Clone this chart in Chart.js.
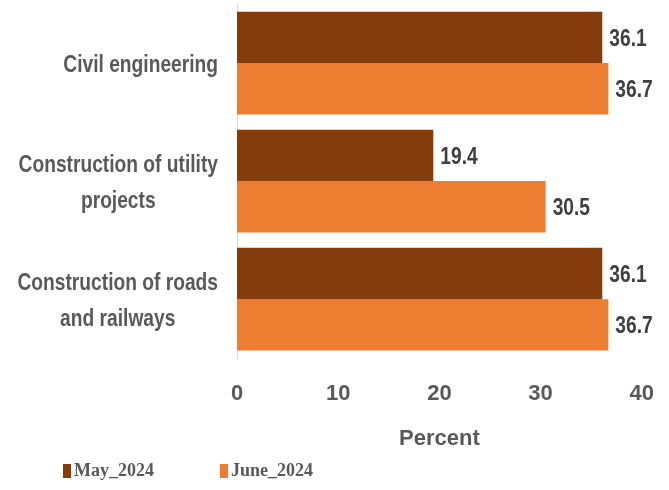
<!DOCTYPE html>
<html>
<head>
<meta charset="utf-8">
<script src="https://cdn.jsdelivr.net/npm/chart.js@4.4.1/dist/chart.umd.min.js"></script>
<style>
    html, body { margin: 0; padding: 0; background: #ffffff; }
    #wrap { width: 669px; height: 490px; }
</style>
</head>
<body>
<div id="wrap"><canvas id="sectorChart" width="669" height="490"></canvas></div>
<script>
// Dados do gráfico
const categories = [
    ['Civil engineering'],
    ['Construction of utility', 'projects'],
    ['Construction of roads', 'and railways']
];
const seriesNames = ['May_2024', 'June_2024'];
const may2024 = [36.1, 19.4, 36.1];
const june2024 = [36.7, 30.5, 36.7];
const xTicks = [0, 10, 20, 30, 40];
const axisTitle = 'Percent';

const FONT = "'Liberation Sans', Arial, sans-serif";
const TEXT_GREY = '#595959';
const NARROW = 0.8; // compressão horizontal do texto

/**
 * Escreve texto estreito (escala horizontal)
 */
function narrowText(ctx, text, x, y, align) {
    const w = ctx.measureText(text).width * NARROW;
    let left = x;
    if (align === 'center') left = x - w / 2;
    else if (align === 'right') left = x - w;
    ctx.save();
    ctx.translate(left, y);
    ctx.scale(NARROW, 1);
    ctx.textAlign = 'left';
    ctx.fillText(text, 0, 0);
    ctx.restore();
}

/**
 * Rótulos das categorias: bloco alinhado à direita, linhas centradas
 */
const categoryLabels = {
    id: 'categoryLabels',
    afterDraw(chart) {
        const ctx = chart.ctx;
        const yScale = chart.scales.y;
        const lineHeight = 36;
        ctx.save();
        ctx.font = "bold 24px " + FONT;
        ctx.fillStyle = TEXT_GREY;
        ctx.textBaseline = 'middle';
        categories.forEach((lines, i) => {
            const y = yScale.getPixelForValue(i) + 2;
            const blockWidth = Math.max(...lines.map(l => ctx.measureText(l).width)) * NARROW;
            const cx = yScale.right - 19 - blockWidth / 2;
            lines.forEach((line, j) => {
                narrowText(ctx, line, cx, y + (j - (lines.length - 1) / 2) * lineHeight, 'center');
            });
        });
        ctx.restore();
    }
};

/**
 * Valores no fim de cada barra
 */
const valueLabels = {
    id: 'valueLabels',
    afterDatasetsDraw(chart) {
        const ctx = chart.ctx;
        ctx.save();
        ctx.font = "bold 24px " + FONT;
        ctx.fillStyle = '#404040';
        ctx.textBaseline = 'middle';
        chart.data.datasets.forEach((ds, d) => {
            chart.getDatasetMeta(d).data.forEach((bar, i) => {
                narrowText(ctx, ds.data[i].toFixed(1), bar.x + 7, bar.y + 2, 'left');
            });
        });
        ctx.restore();
    }
};

/**
 * Legenda em baixo, à esquerda
 */
const bottomLegend = {
    id: 'bottomLegend',
    afterDraw(chart) {
        const ctx = chart.ctx;
        ctx.save();
        ctx.font = "bold 18px 'Liberation Serif', 'Times New Roman', serif";
        ctx.textBaseline = 'middle';
        ctx.textAlign = 'left';
        let x = 63;
        const y = 471;
        chart.data.datasets.forEach(ds => {
            ctx.fillStyle = ds.backgroundColor;
            ctx.fillRect(x, y - 7, 8, 14);
            ctx.fillStyle = TEXT_GREY;
            ctx.fillText(ds.label, x + 11, y);
            x += 11 + ctx.measureText(ds.label).width + 66;
        });
        ctx.restore();
    }
};

const ctx = document.getElementById('sectorChart').getContext('2d');
const sectorChart = new Chart(ctx, {
    type: 'bar',
    data: {
        labels: categories,
        datasets: [
            { label: seriesNames[0], data: may2024, backgroundColor: '#843C0C' },
            { label: seriesNames[1], data: june2024, backgroundColor: '#ED7D31' }
        ]
    },
    options: {
        indexAxis: 'y',
        responsive: false,
        animation: false,
        layout: { padding: { top: 4, right: 26, bottom: 38, left: 0 } },
        datasets: {
            bar: { categoryPercentage: 0.87, barPercentage: 1.0 }
        },
        scales: {
            x: {
                min: xTicks[0],
                max: xTicks[xTicks.length - 1],
                afterBuildTicks: scale => { scale.ticks = xTicks.map(v => ({ value: v })); },
                grid: { display: false },
                border: { display: false },
                ticks: {
                    padding: 15,
                    color: TEXT_GREY,
                    font: { family: FONT, size: 22, weight: 'bold' }
                },
                title: {
                    display: true,
                    text: axisTitle,
                    color: TEXT_GREY,
                    padding: { top: 3, bottom: 0 },
                    font: { family: FONT, size: 22, weight: 'bold' }
                }
            },
            y: {
                grid: { display: false },
                border: { display: true, color: '#D9D9D9', width: 1 },
                ticks: { display: false },
                afterFit: scale => { scale.width = 237; }
            }
        },
        plugins: {
            legend: { display: false },
            tooltip: { enabled: false }
        }
    },
    plugins: [categoryLabels, valueLabels, bottomLegend]
});
</script>
</body>
</html>
